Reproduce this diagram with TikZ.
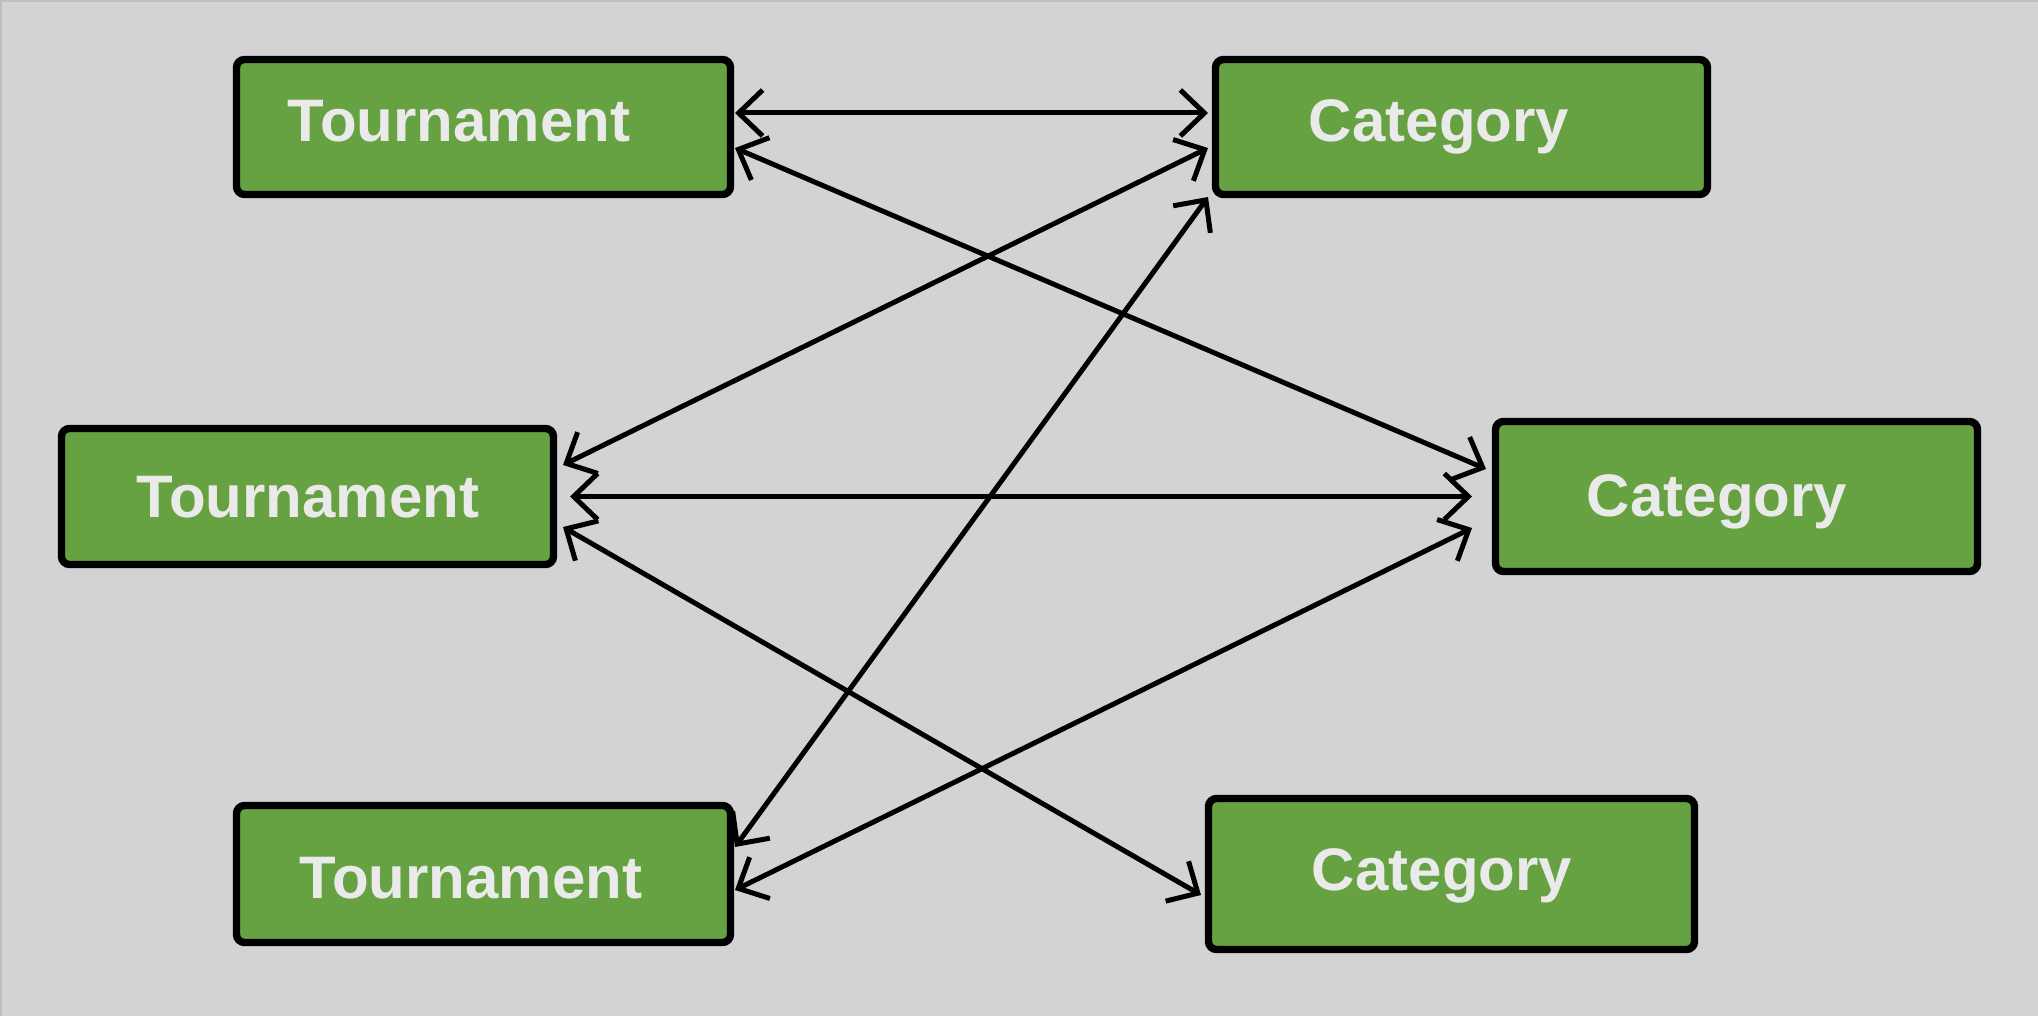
\documentclass[tikz,border=0pt]{standalone}
\usepackage{fontspec}
\setmainfont{Liberation Sans}
\usetikzlibrary{arrows.meta,calc}
\definecolor{bgc}{RGB}{211,211,213}
\definecolor{framec}{RGB}{190,190,192}
\definecolor{boxgreen}{RGB}{102,161,66}
\definecolor{txtc}{RGB}{234,234,234}
\tikzset{
  entity/.style={draw=black, fill=boxgreen, line width=3.7pt, rounded corners=4pt,
    inner sep=0pt, outer sep=0pt},
  lbl/.style={text=txtc, font=\bfseries\fontsize{30pt}{34pt}\selectfont,
    inner sep=0pt, outer sep=0pt, anchor=base},
  rel/.style={draw=black, line width=2.5pt, <->,
    >={Straight Barb[length=12pt,width=23pt]}}
}
\begin{document}
\begin{tikzpicture}[x=0.5pt,y=-0.5pt]
\useasboundingbox (0,0) rectangle (2038,1016);
\fill[bgc] (0,0) rectangle (2038,1016);
\draw[framec, line width=1pt] (1,1016) -- (1,1) -- (2038,1);

% boxes
\node[entity, minimum width=247pt, minimum height=67.5pt] (T1) at (483.5,127) {};
\node[entity, minimum width=246pt, minimum height=67.5pt] (C1) at (1461.5,127) {};
\node[entity, minimum width=246pt, minimum height=68pt] (T2) at (307.5,496.5) {};
\node[entity, minimum width=241pt, minimum height=75pt] (C2) at (1736.5,496.5) {};
\node[entity, minimum width=247pt, minimum height=68.5pt] (T3) at (483.5,874) {};
\node[entity, minimum width=243pt, minimum height=75.5pt] (C3) at (1451.5,874) {};

% labels
\node[lbl] (tl1) at ($(T1.center)+(-24.5,15)$) {Tournament};
\node[lbl] (cl1) at ($(C1.center)+(-22.5,15)$) {Category};
\node[lbl] (tl2) at ($(T2.center)+(0.5,20.5)$) {Tournament};
\node[lbl] (cl2) at ($(C2.center)+(-19.5,20)$) {Category};
\node[lbl] (tl3) at ($(T3.center)+(-12.5,24)$) {Tournament};
\node[lbl] (cl3) at ($(C3.center)+(-9.5,16)$) {Category};

% connectors
\draw[rel] ($(T1.center)+(251.5,-14)$) -- ($(C1.center)+(-253.5,-14)$);
\draw[rel] ($(T1.center)+(251.5,21)$) -- ($(C2.center)+(-250.5,-27.5)$);
\draw[rel] ($(T2.center)+(255.5,-31.5)$) -- ($(C1.center)+(-253.5,21)$);
\draw[rel] ($(T2.center)+(262.5,0)$) -- ($(C2.center)+(-264.5,0)$);
\draw[rel] ($(T2.center)+(255.5,30.5)$) -- ($(C3.center)+(-250.5,21)$);
\draw[rel] ($(T3.center)+(251.5,-27)$) -- ($(C1.center)+(-253.5,70)$);
\draw[rel] ($(T3.center)+(251.5,16)$) -- ($(C2.center)+(-264.5,31.5)$);
\end{tikzpicture}
\end{document}
